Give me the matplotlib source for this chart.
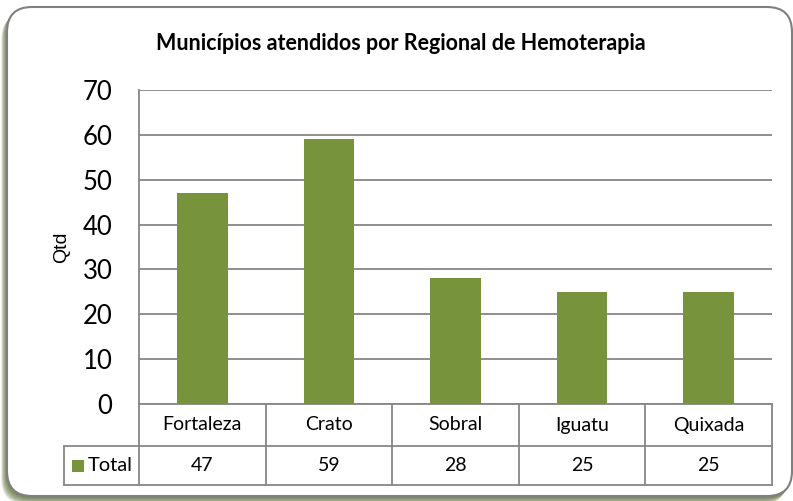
import matplotlib
matplotlib.use("Agg")
import matplotlib.pyplot as plt
from matplotlib.patches import FancyBboxPatch, Rectangle
import numpy as np

categories = ["Fortaleza", "Crato", "Sobral", "Iguatu", "Quixada"]
values = [47, 59, 28, 25, 25]
series_name = "Total"
title = "Municípios atendidos por Regional de Hemoterapia"
ylabel = "Qtd"
yticks = [0, 10, 20, 30, 40, 50, 60, 70]

W, H = 793, 501
BAR = "#77933C"
GRID = "#868686"
FONT = ["Lato", "DejaVu Sans"]

fig = plt.figure(figsize=(W / 100, H / 100), dpi=100)
fig.patch.set_facecolor("white")

bg = fig.add_axes([0, 0, 1, 1], zorder=0)
bg.set_xlim(0, W)
bg.set_ylim(H, 0)
bg.axis("off")

# shadow (offset to bottom-left, blurred)
for i in range(8):
    off = 8 - i
    sh = FancyBboxPatch((7 - off * 0.7, 7 + off * 0.9), 785, 490,
                        boxstyle="round,pad=0,rounding_size=25",
                        fc="#4F6228", ec="none", alpha=0.15)
    bg.add_patch(sh)
frame = FancyBboxPatch((7, 7), 785, 489, boxstyle="round,pad=0,rounding_size=25",
                       fc="white", ec="#7F7F7F", lw=1.5)
bg.add_patch(frame)

L, R, T, B = 139, 772, 90, 404
ax = fig.add_axes([L / W, 1 - B / H, (R - L) / W, (B - T) / H], zorder=2)
ax.patch.set_alpha(0)
x = np.arange(len(categories))
ax.bar(x, values, width=0.4, color=BAR, zorder=3)
ax.set_xlim(-0.5, len(categories) - 0.5)
ax.set_ylim(0, 70)
ax.set_yticks(yticks)
ax.set_yticklabels([str(t) for t in yticks], fontsize=18.5, family=FONT)
ax.tick_params(axis="y", length=0, pad=19)
ax.set_xticks([])
ax.grid(axis="y", color=GRID, lw=1.3, zorder=1)
for s in ["top", "right", "bottom"]:
    ax.spines[s].set_visible(False)
ax.spines["left"].set_color(GRID)
ax.spines["left"].set_linewidth(1.3)
fig.text(62 / W, 1 - 247 / H, ylabel, rotation=90, ha="center", va="center",
         fontsize=14, family=["Liberation Sans", "DejaVu Sans"])

fig.text(401 / W, 1 - 44 / H, title, ha="center", va="center", fontsize=15.5,
         fontweight="bold", family=FONT)

colw = (R - L) / len(categories)
r0, r1, r2 = B, 446, 485
legL = 64
lc = dict(color=GRID, lw=1.3, zorder=3)
bg.plot([L, R], [r0, r0], **lc)
bg.plot([legL, R], [r1, r1], **lc)
bg.plot([legL, R], [r2, r2], **lc)
bg.plot([legL, legL], [r1, r2], **lc)
for i in range(len(categories) + 1):
    xx = L + i * colw
    bg.plot([xx, xx], [r0, r2], **lc)
for i, (c, v) in enumerate(zip(categories, values)):
    cx = L + (i + 0.5) * colw
    bg.text(cx, (r0 + r1) / 2, c, ha="center", va="center", fontsize=14, family=FONT)
    bg.text(cx, (r1 + r2) / 2, str(v), ha="center", va="center", fontsize=14, family=FONT)
bg.add_patch(Rectangle((72, 460), 12, 12, fc=BAR, ec="none", zorder=3))
bg.text(88, (r1 + r2) / 2, series_name, ha="left", va="center", fontsize=14.5, family=FONT)

fig.savefig("out.png", dpi=100)
